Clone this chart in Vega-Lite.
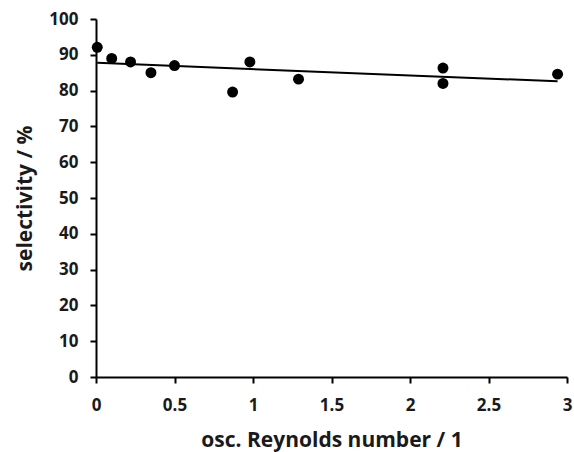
{
  "$schema": "https://vega.github.io/schema/vega-lite/v6.json",
  "autosize": {"type": "none"},
  "padding": {"left": 96, "top": 19, "right": 7, "bottom": 75},
  "width": 471,
  "height": 358,
  "background": "white",
  "config": {
    "view": {"stroke": null},
    "font": "Open Sans",
    "axis": {
      "grid": false,
      "domainColor": "black",
      "domainWidth": 2,
      "tickColor": "black",
      "tickWidth": 2,
      "tickSize": 6,
      "labelFont": "Open Sans",
      "labelFontWeight": "bold",
      "labelFontSize": 17,
      "labelColor": "#1a1a1a",
      "labelFlush": false,
      "titleFont": "Open Sans",
      "titleFontWeight": "bold",
      "titleFontSize": 21,
      "titleColor": "#1a1a1a"
    }
  },
  "data": {
    "values": [
      {"re": 0.008, "sel": 92.1},
      {"re": 0.1, "sel": 89.0},
      {"re": 0.22, "sel": 88.0},
      {"re": 0.35, "sel": 85.0},
      {"re": 0.5, "sel": 87.0},
      {"re": 0.87, "sel": 79.6},
      {"re": 0.98, "sel": 88.0},
      {"re": 1.29, "sel": 83.2},
      {"re": 2.21, "sel": 86.3},
      {"re": 2.21, "sel": 82.0},
      {"re": 2.94, "sel": 84.6}
    ]
  },
  "encoding": {
    "x": {
      "field": "re",
      "type": "quantitative",
      "scale": {"domain": [0, 3], "nice": false, "zero": false},
      "axis": {
        "title": "osc. Reynolds number / 1",
        "values": [0, 0.5, 1, 1.5, 2, 2.5, 3],
        "format": "~g",
        "labelPadding": 14,
        "titlePadding": 16
      }
    },
    "y": {
      "field": "sel",
      "type": "quantitative",
      "scale": {"domain": [0, 100], "nice": false},
      "axis": {
        "title": "selectivity / %",
        "values": [0, 10, 20, 30, 40, 50, 60, 70, 80, 90, 100],
        "format": "d",
        "labelPadding": 12,
        "titlePadding": 13
      }
    }
  },
  "layer": [
    {
      "transform": [{"regression": "sel", "on": "re"}],
      "mark": {"type": "line", "color": "black", "strokeWidth": 2}
    },
    {
      "mark": {"type": "point", "filled": true, "color": "black", "opacity": 1, "size": 120}
    }
  ]
}
